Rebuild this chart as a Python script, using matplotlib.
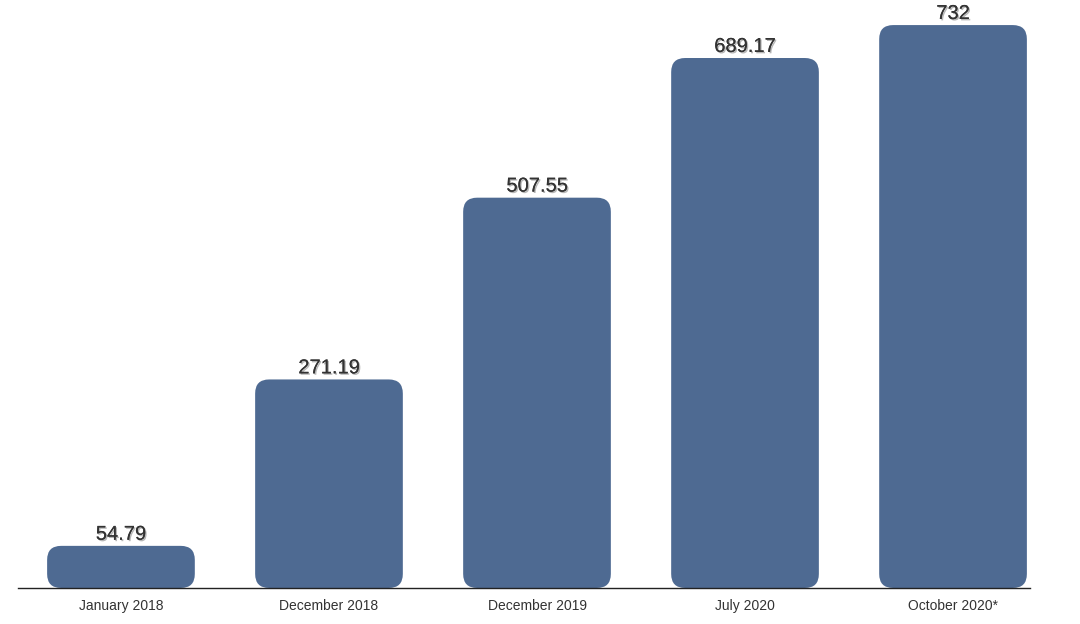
import matplotlib
matplotlib.use("Agg")
import matplotlib.pyplot as plt
from matplotlib.patches import FancyBboxPatch
import matplotlib.patheffects as pe

categories = ["January 2018", "December 2018", "December 2019", "July 2020", "October 2020*"]
values = [54.79, 271.19, 507.55, 689.17, 732]
value_labels = ["54.79", "271.19", "507.55", "689.17", "732"]

plt.rcParams['font.family'] = ['Liberation Sans', 'DejaVu Sans']

W, H = 1080, 624
fig = plt.figure(figsize=(W/100, H/100), dpi=100)
ax_left, ax_right, ax_bottom_px = 18, 1030, 588
ax = fig.add_axes([ax_left/W, (H-ax_bottom_px)/H, (ax_right-ax_left)/W, ax_bottom_px/H])

xmin, xmax = -0.495, 4.37
ymin, ymax = 0, 764.6
ax.set_xlim(xmin, xmax)
ax.set_ylim(ymin, ymax)

px_per_x = (ax_right-ax_left)/(xmax-xmin)
px_per_y = ax_bottom_px/(ymax-ymin)
aspect = px_per_x/px_per_y

bar_w = 0.71
r_px = 14
color = "#4e6a92"
for i, v in enumerate(values):
    p = FancyBboxPatch((i - bar_w/2, 0), bar_w, v,
                       boxstyle=f"round,pad=0,rounding_size={r_px/px_per_x}",
                       mutation_aspect=aspect,
                       facecolor=color, edgecolor="none", zorder=2)
    ax.add_patch(p)
    ax.annotate(value_labels[i], (i, v), xytext=(0, 1.5), textcoords="offset points",
                ha="center", va="bottom", fontsize=14.5, color="#333333",
                path_effects=[pe.withSimplePatchShadow(offset=(1.0, -1.0), shadow_rgbFace="#888888", alpha=0.6),
                              pe.Normal()], zorder=3)

ax.set_xticks(range(len(categories)))
ax.set_xticklabels(categories, fontsize=10, color="#333333")
ax.tick_params(axis="x", length=0, pad=8)
ax.set_yticks([])
for s in ["top", "right", "left"]:
    ax.spines[s].set_visible(False)
ax.spines["bottom"].set_color("#222222")
ax.spines["bottom"].set_linewidth(1.0)
ax.spines["bottom"].set_zorder(4)

fig.savefig("out.png", dpi=100)
